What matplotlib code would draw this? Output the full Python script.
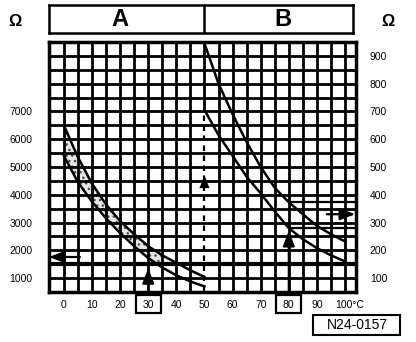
import matplotlib
matplotlib.use("Agg")
import matplotlib.pyplot as plt
from matplotlib.patches import Rectangle
from matplotlib.transforms import blended_transform_factory

plt.rcParams['font.family'] = ['Liberation Sans', 'DejaVu Sans']
plt.rcParams['hatch.linewidth'] = 1.0

# Temperature in degC, resistance on the right-hand scale in ohms
# (the left-hand scale reads ten times higher)
temp_a = [0, 5, 10, 15, 20, 25, 30, 35, 40, 45, 50]
a_upper = [650, 535, 440, 365, 305, 258, 215, 182, 155, 128, 104]
a_lower = [540, 445, 375, 315, 262, 215, 172, 138, 110, 88, 70]

temp_b = [50, 55, 60, 65, 70, 75, 80, 85, 90, 95, 100]
b_upper = [945, 800, 690, 590, 500, 425, 373, 330, 288, 258, 232]
b_lower = [705, 615, 540, 465, 405, 340, 280, 240, 208, 182, 160]

x_ticks = [0, 10, 20, 30, 40, 50, 60, 70, 80, 90]
left_ticks = [100, 200, 300, 400, 500, 600, 700]
left_labels = ['1000', '2000', '3000', '4000', '5000', '6000', '7000']
right_ticks = [100, 200, 300, 400, 500, 600, 700, 800, 900]
boxed_temps = [30, 80]

# check points: 30 degC -> 1500..2000, 80 degC -> 275..375
check_a_level = 176
check_b_level = 330
spec_b = [375, 280]

W, H = 416, 342
XMIN, XMAX = -5.3, 103.9
YMIN, YMAX = 50, 950


def frame(l, t, r, b):
    return [l / W, 1 - b / H, (r - l) / W, (b - t) / H]


fig = plt.figure(figsize=(W / 100, H / 100), dpi=100)
ax = fig.add_axes(frame(49, 42, 356, 292))
ax.set_xlim(XMIN, XMAX)
ax.set_ylim(YMIN, YMAX)

# grid
vcols = [t for t in range(0, 101, 5) if t != 50]
ax.vlines(vcols, YMIN, YMAX, color='k', lw=2, zorder=2)
ax.vlines(50, 700, YMAX, color='k', lw=2, zorder=2)
ax.hlines([v for v in range(100, 901, 50) if v != 150], XMIN, XMAX,
          color='k', lw=2, zorder=2)
ax.hlines(150, XMIN, XMAX, color='k', lw=3, zorder=2)

# tolerance bands, stippled in range A
ax.fill_between(temp_a[:8], a_lower[:8], a_upper[:8], facecolor='0.9',
                edgecolor='0.3', hatch='...', lw=0, zorder=1)
for vals in (a_upper, a_lower):
    ax.plot(temp_a, vals, color='k', lw=1.8, zorder=3)
for vals in (b_upper, b_lower):
    ax.plot(temp_b, vals, color='k', lw=1.8, zorder=3)
ax.hlines(spec_b, 80, XMAX, color='k', lw=1.6, zorder=3)

# dashed line at 50 degC with arrowhead
ax.plot([50, 50], [YMIN + 5, b_lower[0]], color='k', lw=1.6,
        ls=(0, (2.5, 2)), zorder=3)
head = dict(arrowstyle='-|>,head_length=0.9,head_width=0.35', color='k',
            lw=1.6, shrinkA=0, shrinkB=0)
ax.annotate('', xy=(50, 470), xytext=(50, 420),
            arrowprops=dict(head, lw=0.1), zorder=4)

# check arrows
ax.annotate('', xy=(30, 136), xytext=(30, YMIN), arrowprops=head, zorder=4)
ax.annotate('', xy=(80, 270), xytext=(80, YMIN), arrowprops=head, zorder=4)
ax.annotate('', xy=(XMIN, check_a_level), xytext=(5.7, check_a_level),
            arrowprops=head, zorder=4)
ax.annotate('', xy=(XMAX - 0.3, check_b_level), xytext=(93.5, check_b_level),
            arrowprops=head, zorder=4)

for s in ax.spines.values():
    s.set_linewidth(2.5)
    s.set_zorder(5)

ax.set_xticks(x_ticks)
ax.set_xticklabels([str(t) for t in x_ticks])
ax.set_yticks(left_ticks)
ax.set_yticklabels(left_labels)
ax.tick_params(axis='x', length=0, pad=6, labelsize=7.5)
ax.tick_params(axis='y', length=0, pad=12, labelsize=7.5)

ax2 = ax.twinx()
ax2.set_ylim(YMIN, YMAX)
ax2.set_yticks(right_ticks)
ax2.set_yticklabels([str(v) for v in right_ticks])
ax2.tick_params(axis='y', length=0, pad=10, labelsize=7.5)
for s in ax2.spines.values():
    s.set_visible(False)

trans = blended_transform_factory(ax.transData, ax.transAxes)
ax.text(96.4, -0.052, '100°C', transform=trans, ha='left', va='center',
        fontsize=7.5)
for t in boxed_temps:
    ax.add_patch(Rectangle((t - 4.45, -0.084), 8.9, 0.072, transform=trans,
                           fill=False, ec='k', lw=1.6, clip_on=False))

# header with ranges A and B
hax = fig.add_axes(frame(49, 5, 353, 33))
hax.set_xlim(XMIN, XMIN + 304 / 2.811)
hax.set_ylim(0, 1)
hax.set_xticks([])
hax.set_yticks([])
for s in hax.spines.values():
    s.set_linewidth(1.8)
hax.axvline(50, color='k', lw=1.8)
hax.text(20, 0.5, 'A', ha='center', va='center', fontsize=17,
         fontweight='bold')
hax.text(78, 0.5, 'B', ha='center', va='center', fontsize=17,
         fontweight='bold')

fig.text(15 / W, 1 - 21 / H, 'Ω', ha='center', va='center', fontsize=12,
         fontweight='bold')
fig.text(388 / W, 1 - 21 / H, 'Ω', ha='center', va='center', fontsize=12,
         fontweight='bold')

fig.add_artist(Rectangle((313 / W, 1 - 335 / H), 87 / W, 20 / H,
                         transform=fig.transFigure, fill=False, ec='k',
                         lw=1.5))
fig.text(357 / W, 1 - 325 / H, 'N24-0157', ha='center', va='center',
         fontsize=10)

fig.savefig('out.png', dpi=100, facecolor='white')
